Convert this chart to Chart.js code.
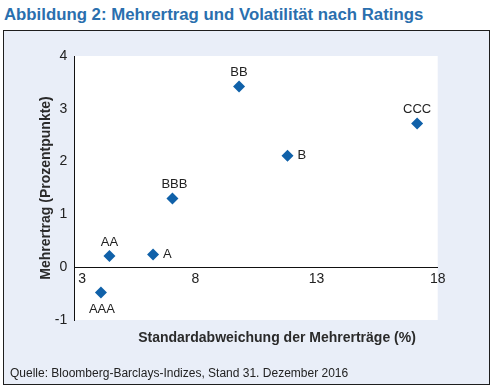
<!DOCTYPE html>
<html>
<head>
<meta charset="utf-8">
<script src="https://cdn.jsdelivr.net/npm/chart.js@4.4.1/dist/chart.umd.min.js"></script>
<style>
  html, body { margin: 0; padding: 0; background: #fff; }
  body { width: 491px; height: 387px; position: relative; overflow: hidden;
         font-family: 'Liberation Sans', Arial, sans-serif; }
  #title { position: absolute; left: 4px; top: 5px; font-size: 16.8px; font-weight: bold;
           color: #2a6fae; white-space: nowrap; }
  #box { position: absolute; left: 3px; top: 30px; width: 485px; height: 353px;
         border: 1px solid #1e1e1e; background: #e9eef8; }
  #xtitle { position: absolute; left: 0; width: 554px; top: 329px; text-align: center;
            font-size: 14px; font-weight: bold; color: #2a2a2a; white-space: nowrap; }
  #source { position: absolute; left: 10px; top: 366px; font-size: 12px; color: #222;
            white-space: nowrap; }
  #wrap { position: absolute; left: 0; top: 0; width: 491px; height: 387px; }
</style>
</head>
<body>
<div id="title">Abbildung 2: Mehrertrag und Volatilität nach Ratings</div>
<div id="box"></div>
<div id="wrap"><canvas id="ratingChart"></canvas></div>
<div id="xtitle">Standardabweichung der Mehrerträge (%)</div>
<div id="source">Quelle: Bloomberg-Barclays-Indizes, Stand 31. Dezember 2016</div>

<script>
// Ratings and their risk / excess return
const ratings = ['AAA', 'AA', 'A', 'BBB', 'BB', 'B', 'CCC'];
const volatility = [4.1, 4.45, 6.25, 7.05, 9.8, 11.8, 17.15];
const excessReturn = [-0.48, 0.21, 0.24, 1.3, 3.42, 2.11, 2.72];
const xTicks = [3, 8, 13, 18];
const yTicks = [-1, 0, 1, 2, 3, 4];

const FONT = "'Liberation Sans', Arial, sans-serif";

// white plot area
const plotBg = {
    id: 'plotBg',
    beforeDraw(chart) {
        const a = chart.chartArea;
        const ctx = chart.ctx;
        ctx.save();
        ctx.fillStyle = '#ffffff';
        ctx.fillRect(a.left, a.top, a.right - a.left, a.bottom - a.top);
        ctx.restore();
    }
};

// rating labels next to the diamonds
const pointLabels = {
    id: 'pointLabels',
    afterDatasetsDraw(chart) {
        const ctx = chart.ctx;
        const meta = chart.getDatasetMeta(0);
        ctx.save();
        ctx.font = '13px ' + FONT;
        ctx.fillStyle = '#222';
        ctx.textBaseline = 'middle';
        meta.data.forEach((pt, i) => {
            const name = ratings[i];
            if (name === 'A' || name === 'B') {
                ctx.textAlign = 'left';
                ctx.fillText(name, pt.x + 10, pt.y);
            } else if (name === 'AAA') {
                ctx.textAlign = 'center';
                ctx.fillText(name, pt.x + 1, pt.y + 17);
            } else {
                ctx.textAlign = 'center';
                ctx.fillText(name, pt.x + (name === 'BBB' ? 2 : 0), pt.y - 14);
            }
        });
        ctx.restore();
    }
};

const ctx = document.getElementById('ratingChart').getContext('2d');

new Chart(ctx, {
    type: 'scatter',
    data: {
        datasets: [{
            data: ratings.map((r, i) => ({ x: volatility[i], y: excessReturn[i] })),
            pointStyle: 'rectRot',
            pointRadius: 6,
            pointBackgroundColor: '#1061a9',
            pointBorderColor: '#1061a9',
            pointBorderWidth: 0
        }]
    },
    options: {
        responsive: true,
        maintainAspectRatio: false,
        animation: false,
        layout: {
            padding: { top: 56, right: 53.3, bottom: 67, left: 38 }
        },
        plugins: {
            legend: { display: false },
            tooltip: { enabled: false }
        },
        scales: {
            x: {
                type: 'linear',
                position: { y: 0 },
                min: 3,
                max: 18,
                afterBuildTicks: s => { s.ticks = xTicks.map(v => ({ value: v })); },
                afterFit: s => { s.paddingLeft = 0; s.paddingRight = 0; },
                grid: { display: false, drawTicks: false },
                border: { color: '#111', width: 1 },
                ticks: {
                    padding: 4,
                    color: '#222',
                    font: { family: FONT, size: 14 },
                    maxRotation: 0,
                    callback: v => v === 3 ? '    3' : String(v)
                }
            },
            y: {
                type: 'linear',
                position: 'left',
                min: -1,
                max: 4,
                afterBuildTicks: s => { s.ticks = yTicks.map(v => ({ value: v })); },
                afterFit: s => { s.width = 74.3 - 38; s.paddingTop = 0; s.paddingBottom = 0; },
                grid: { display: false, drawTicks: false },
                border: { color: '#111', width: 1 },
                ticks: {
                    padding: 7,
                    color: '#222',
                    font: { family: FONT, size: 14 },
                    callback: v => String(v)
                },
                title: {
                    display: true,
                    text: 'Mehrertrag (Prozentpunkte)',
                    color: '#2a2a2a',
                    font: { family: FONT, size: 14, weight: 'bold' },
                    padding: 0
                }
            }
        }
    },
    plugins: [plotBg, pointLabels]
});
</script>
</body>
</html>
